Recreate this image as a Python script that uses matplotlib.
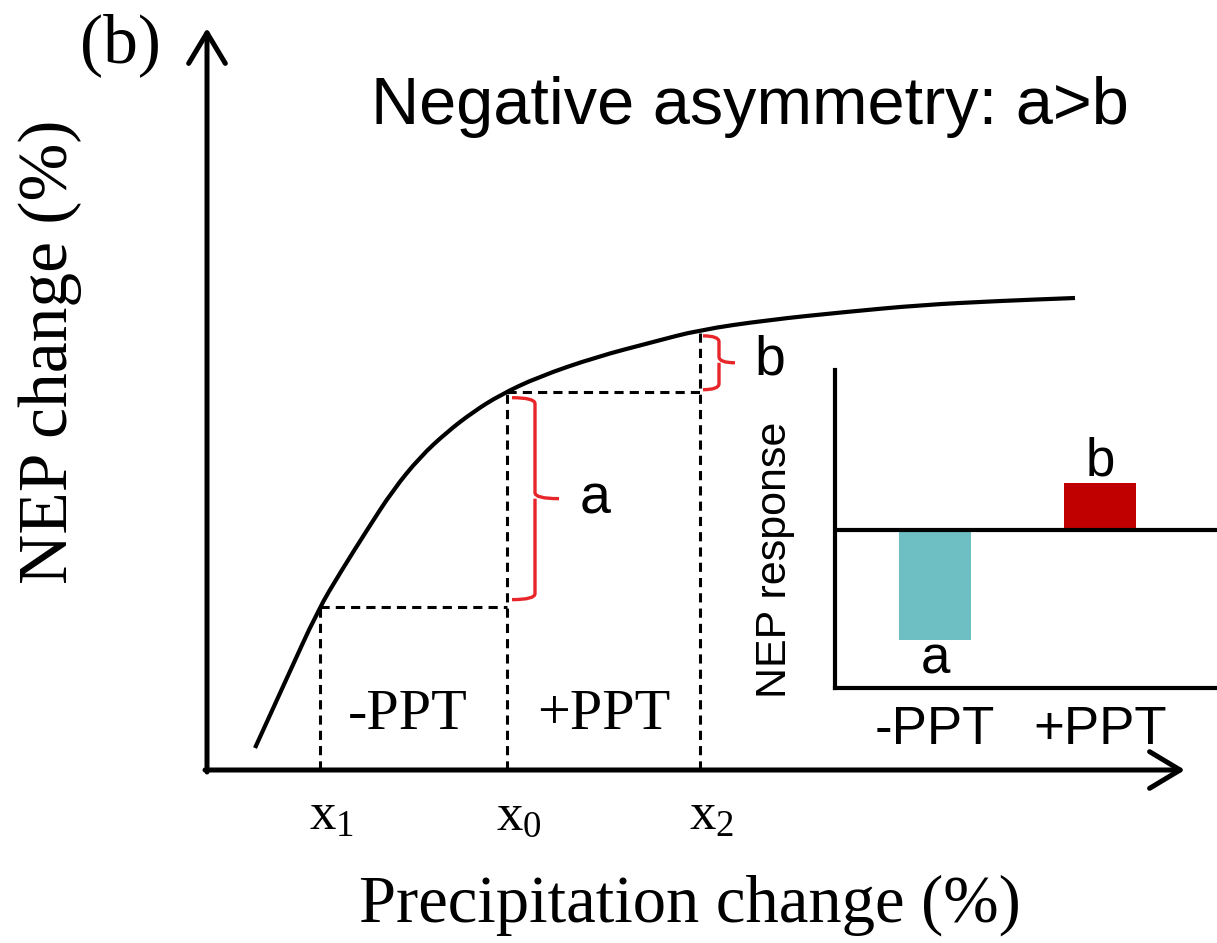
import numpy as np
import matplotlib
matplotlib.use("Agg")
import matplotlib.pyplot as plt
from matplotlib.path import Path
from matplotlib.patches import PathPatch

plt.rcParams['mathtext.fontset'] = 'custom'
plt.rcParams['mathtext.rm'] = 'Liberation Serif'
plt.rcParams['mathtext.it'] = 'Liberation Serif'

SERIF = 'Liberation Serif'
SANS = 'Liberation Sans'

# ---- data (conceptual curve) ----
curve_x = [48, 79, 111, 133, 160, 186, 213, 240, 266, 293, 331, 389, 446, 492, 561, 638, 714, 791, 868]
curve_y = [22, 90, 160, 197, 240, 280, 313, 338, 358, 375, 393, 413, 428, 440, 450, 458, 465, 469, 472]
x_marks = [113, 300, 493]          # x1, x0, x2
x_mark_labels = [r'$\mathrm{x_1}$', r'$\mathrm{x_0}$', r'$\mathrm{x_2}$']

inset_categories = ['-PPT', '+PPT']
inset_values = [-110, 47]           # a (negative), b (positive)
inset_colors = ['#6DBFC4', '#C00000']
inset_bar_labels = ['a', 'b']

W, H = 1217, 943
fig = plt.figure(figsize=(W / 100, H / 100), dpi=100)
ax = fig.add_axes([0, 0, 1, 1])
ax.set_xlim(-207, W - 207)
ax.set_ylim(-(H - 770), 770)
ax.axis('off')

# axes arrows
arrow_kw = dict(arrowstyle='->,head_length=0.55,head_width=0.33', lw=3.6,
                color='black', shrinkA=0, shrinkB=0, mutation_scale=40)
ax.annotate('', xy=(0, 742), xytext=(0, -2), arrowprops=arrow_kw)
ax.annotate('', xy=(978, 0), xytext=(-2, 0), arrowprops=arrow_kw)

# curve: smooth path through the read points (quadratic Bezier between midpoints)
pts = np.column_stack([curve_x, curve_y]).astype(float)
mids = (pts[:-1] + pts[1:]) / 2
verts = [tuple(pts[0]), tuple(mids[0])]
codes = [Path.MOVETO, Path.LINETO]
for i in range(1, len(pts) - 1):
    verts += [tuple(pts[i]), tuple(mids[i])]
    codes += [Path.CURVE3, Path.CURVE3]
verts.append(tuple(pts[-1]))
codes.append(Path.LINETO)
ax.add_patch(PathPatch(Path(verts, codes), fill=False, ec='black', lw=3.0,
                       capstyle='butt'))

x1, x0, x2 = x_marks
y1, y0, y2 = np.interp(x_marks, curve_x, curve_y)

dash = dict(color='black', lw=2.2, linestyle=(0, (3, 2)))
ax.plot([x1, x1], [0, y1], **dash)
ax.plot([x1, x0], [y1, y1], **dash)
ax.plot([x0, x0], [0, y0], **dash)
ax.plot([x0, x2], [y0, y0], **dash)
ax.plot([x2, x2], [0, y2], **dash)


def brace(xh, xv, xtip, ytop, ybot, r=6):
    ymid = (ytop + ybot) / 2
    verts = [(xh, ytop), (xv, ytop), (xv, ytop - r),
             (xv, ymid + r), (xv, ymid), (xtip, ymid),
             (xv, ymid), (xv, ymid - r),
             (xv, ybot + r), (xv, ybot), (xh, ybot)]
    codes = [Path.MOVETO, Path.CURVE3, Path.CURVE3,
             Path.LINETO, Path.CURVE3, Path.CURVE3,
             Path.MOVETO, Path.LINETO,
             Path.LINETO, Path.CURVE3, Path.CURVE3]
    ax.add_patch(PathPatch(Path(verts, codes), fill=False, ec='#E8262A', lw=2.4))


brace(x0 + 5, x0 + 28, x0 + 52, y0 - 6, y1 + 7)
brace(x2 + 3, x2 + 19, x2 + 35, y2 - 6, y0 + 2)

ax.text(x0 + 88, (y0 + y1) / 2, 'a', fontsize=40, family=SANS, ha='center', va='center')
ax.text(x2 + 70, (y0 + y2) / 2, 'b', fontsize=40, family=SANS, ha='center', va='center')

ax.text((x1 + x0) / 2 - 6, 55, '-PPT', fontsize=42, family=SERIF, ha='center', va='center')
ax.text((x0 + x2) / 2, 55, '+PPT', fontsize=42, family=SERIF, ha='center', va='center')

for xm, lab in zip(x_marks, x_mark_labels):
    ax.text(xm + 12, -45, lab, fontsize=38, ha='center', va='center')

ax.text(543, 663, 'Negative asymmetry: a>b', fontsize=48, family=SANS, ha='center', va='center')
ax.text(-87, 725, '(b)', fontsize=50, family=SERIF, ha='center', va='center')
ax.text(483, -135, 'Precipitation change (%)', fontsize=48, family=SERIF, ha='center', va='center')
ax.text(-157, 418, 'NEP change (%)', fontsize=50, family=SERIF, ha='center', va='center', rotation=90)

# ---- inset bar chart ----
L = 835 / W
B = 1 - 688 / H
iax = fig.add_axes([L, B, (W - 835) / W + 0.03, (688 - 370) / H])
pos = np.arange(len(inset_categories))
iax.bar(pos, inset_values, width=0.436, color=inset_colors)
iax.axhline(0, color='black', lw=3.0)
iax.set_xlim(-0.606, 1.93)
iax.set_ylim(-158, 160)
for s in ['top', 'right']:
    iax.spines[s].set_visible(False)
for s in ['left', 'bottom']:
    iax.spines[s].set_linewidth(3.0)
iax.set_yticks([])
iax.set_xticks(pos)
iax.set_xticklabels(inset_categories, fontsize=38, family=SANS)
iax.tick_params(axis='x', length=0, pad=12)
for p, v, lab in zip(pos, inset_values, inset_bar_labels):
    iax.text(p, v + (-20 if v < 0 else 22), lab, fontsize=38, family=SANS,
             ha='center', va='center')
fig.text(775 / W, 1 - 560 / H, 'NEP response', fontsize=31, family=SANS,
         rotation=90, ha='center', va='center')

fig.savefig('out.png', dpi=100)
